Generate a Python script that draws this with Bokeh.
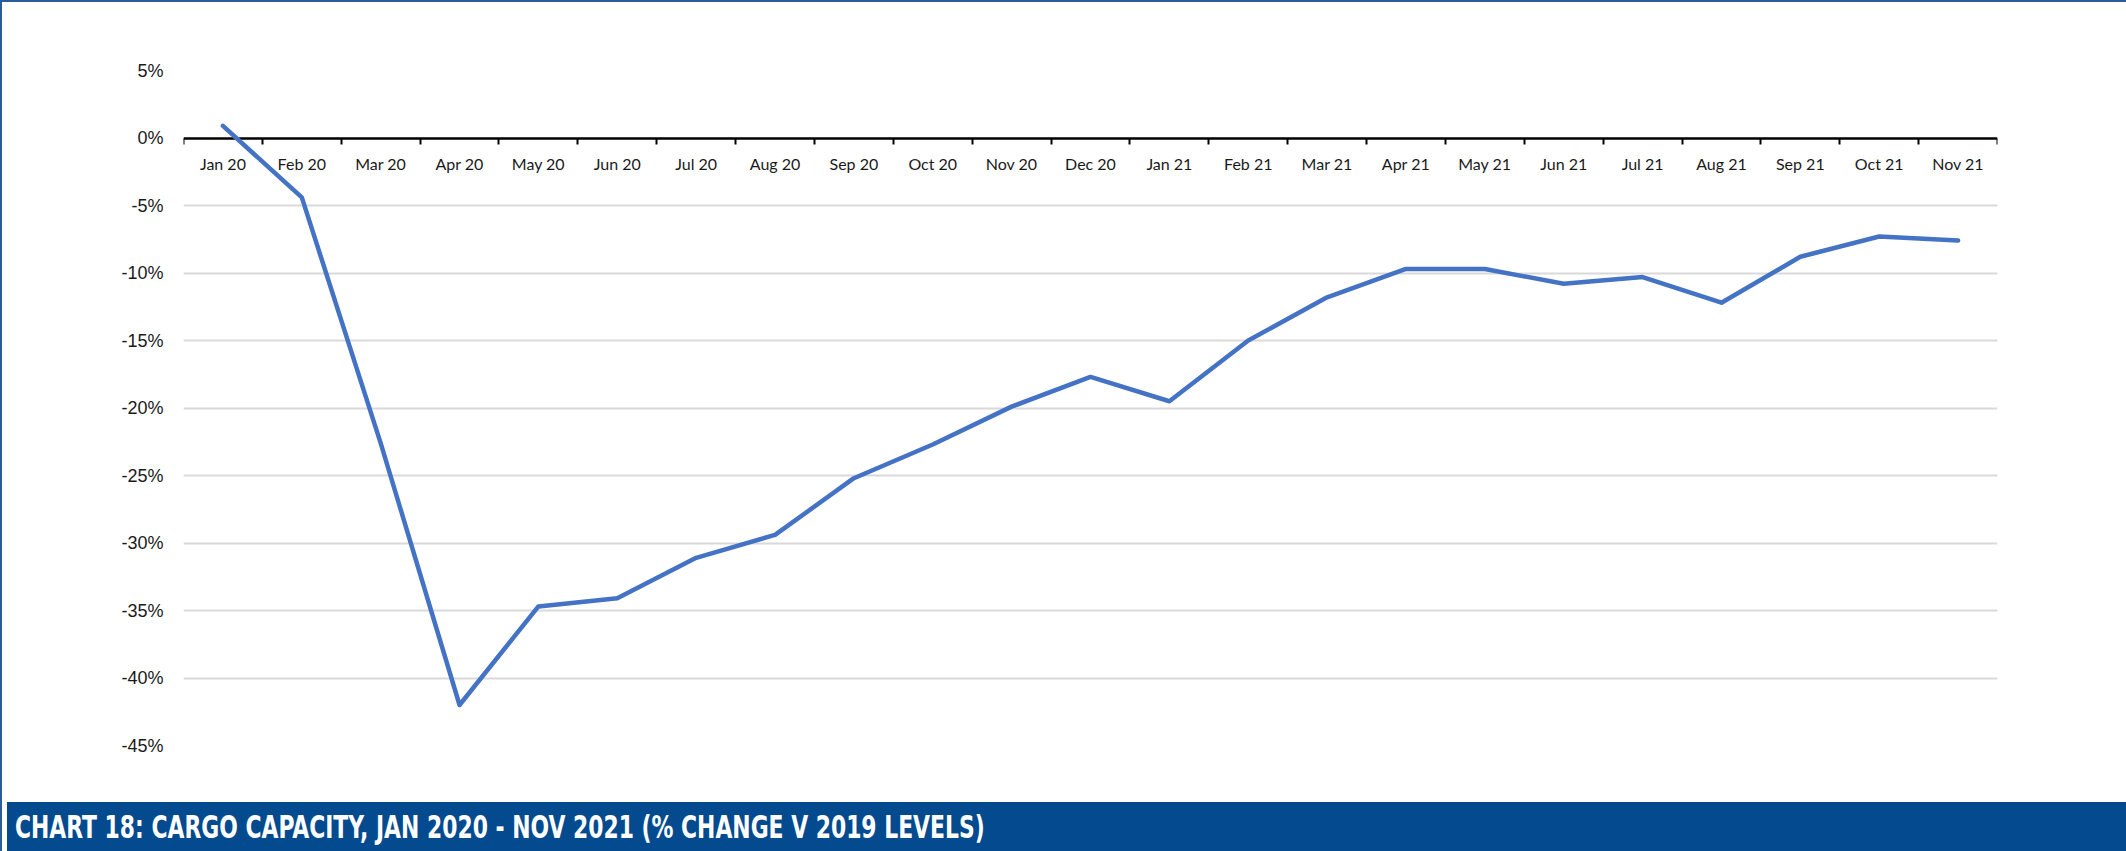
from bokeh.plotting import figure
from bokeh.models import (Range1d, FixedTicker, PrintfTickFormatter, CustomJSTickFormatter, Div)
from bokeh.layouts import column
from bokeh.embed import file_html
from bokeh.resources import INLINE

months = ["Jan 20", "Feb 20", "Mar 20", "Apr 20", "May 20", "Jun 20", "Jul 20", "Aug 20",
          "Sep 20", "Oct 20", "Nov 20", "Dec 20", "Jan 21", "Feb 21", "Mar 21", "Apr 21",
          "May 21", "Jun 21", "Jul 21", "Aug 21", "Sep 21", "Oct 21", "Nov 21"]
capacity_change = [0.9, -4.4, -22.6, -42.0, -34.7, -34.1, -31.1, -29.4, -25.2, -22.7, -19.9,
                   -17.7, -19.5, -15.0, -11.8, -9.7, -9.7, -10.8, -10.3, -12.2, -8.8, -7.3, -7.6]
y_ticks = [5, 0, -5, -10, -15, -20, -25, -30, -35, -40, -45]
title_text = "CHART 18: CARGO CAPACITY, JAN 2020 - NOV 2021 (% CHANGE V 2019 LEVELS)"

n = len(months)
x_centres = [i + 0.5 for i in range(n)]
x_bounds = list(range(n + 1))
grid_ticks = [t for t in y_ticks if t != 0]

p = figure(width=2122, height=795, x_range=Range1d(0, n), y_range=Range1d(-45, 5),
           output_backend="svg", toolbar_location=None,
           min_border_left=181, min_border_right=127, min_border_top=68, min_border_bottom=52)
p.outline_line_color = None
p.background_fill_color = "white"
p.border_fill_color = "white"

# y axis (labels only)
p.yaxis.ticker = FixedTicker(ticks=y_ticks, minor_ticks=[])
p.yaxis.formatter = PrintfTickFormatter(format="%d%%")
p.yaxis.axis_line_color = None
p.yaxis.major_tick_line_color = None
p.yaxis.minor_tick_line_color = None
p.yaxis.major_tick_out = 0
p.yaxis.major_tick_in = 0
p.yaxis.major_label_standoff = 20
p.yaxis.major_label_text_font = "Liberation Sans"
p.yaxis.major_label_text_font_size = "18px"
p.yaxis.major_label_text_color = "#1a1a1a"

p.ygrid.ticker = FixedTicker(ticks=grid_ticks)
p.ygrid.grid_line_color = "#D9D9D9"
p.ygrid.grid_line_width = 2
p.xgrid.grid_line_color = None

# x axis drawn at y = 0, ticks at category boundaries, labels at centres
p.xaxis.fixed_location = 0
p.xaxis.ticker = FixedTicker(ticks=x_centres, minor_ticks=x_bounds)
p.xaxis.formatter = CustomJSTickFormatter(args=dict(labels=months),
                                          code="return labels[Math.floor(tick)] || '';")
p.xaxis.axis_line_color = "black"
p.xaxis.axis_line_width = 2.5
p.xaxis.major_tick_line_color = None
p.xaxis.major_tick_out = 0
p.xaxis.major_tick_in = 0
p.xaxis.minor_tick_line_color = "black"
p.xaxis.minor_tick_line_width = 2
p.xaxis.minor_tick_out = 6
p.xaxis.minor_tick_in = 0
p.xaxis.major_label_standoff = 10
p.xaxis.major_label_text_font = "Lato"
p.xaxis.major_label_text_font_size = "16px"
p.xaxis.major_label_text_color = "#1a1a1a"
p.xaxis.level = "underlay"

p.line(x_centres, capacity_change, line_color="#4472C4", line_width=4.5,
       line_join="round", line_cap="round")

# footer band
footer = Div(
    text=('<span style="display:inline-block;transform:scaleX(0.76);'
          'transform-origin:left center;white-space:nowrap;">' + title_text + '</span>'),
    width=2122, height=52,
    styles={"background-color": "#034A8F", "color": "white",
            "font-family": "'Liberation Sans Narrow', 'DejaVu Sans Condensed', sans-serif",
            "font-weight": "bold", "font-size": "32px", "line-height": "50px",
            "padding-left": "8px", "box-sizing": "border-box", "overflow": "hidden"})

layout = column(p, footer, spacing=0, styles={"border": "2px solid #2B5D9C"})

open("out.html", "w").write(file_html(layout, INLINE))
